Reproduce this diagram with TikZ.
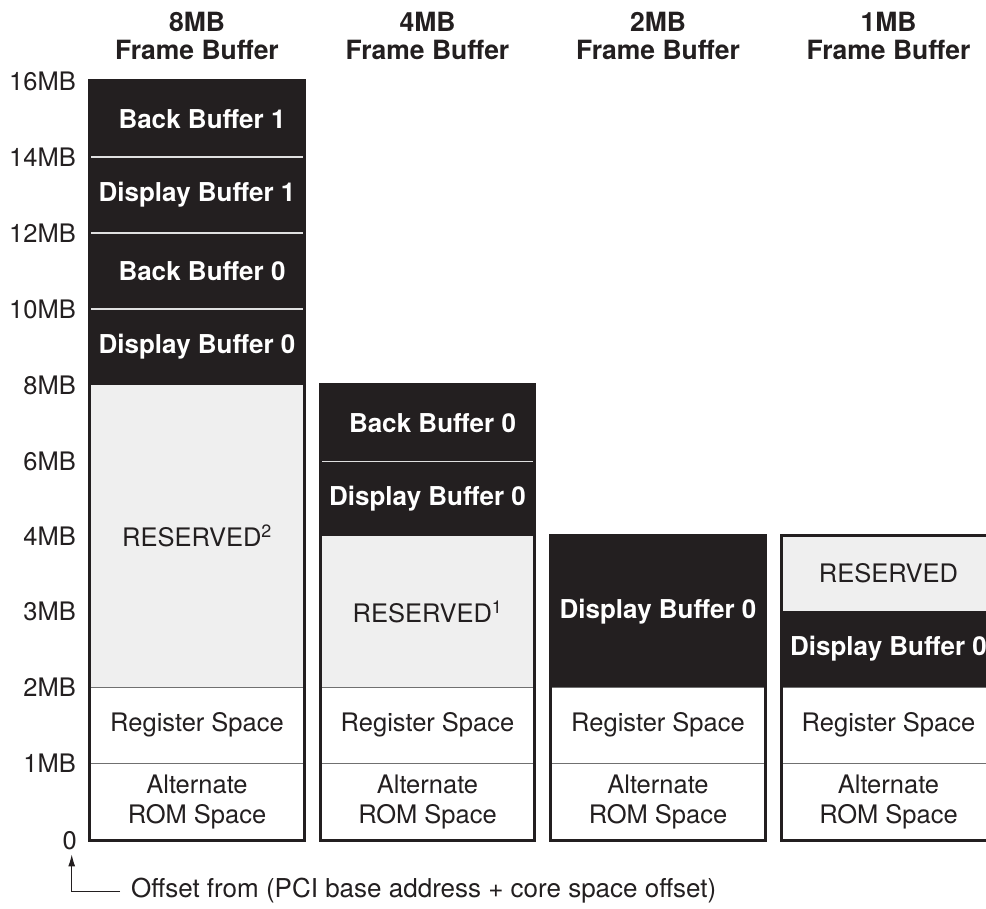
\documentclass[tikz,border=0pt]{standalone}
\usepackage{fontspec}
\setmainfont{TeX Gyre Heros}
\usetikzlibrary{arrows.meta,positioning}
\definecolor{mblack}{HTML}{231F20}
\definecolor{mgray}{HTML}{EFEFEF}
\definecolor{mline}{HTML}{707070}
\newcommand{\mfs}{\fontsize{25.5}{30}\selectfont}
\tikzset{
  >={Latex[length=12pt,width=7pt]},
  mblk/.style={fill=mblack, text=white, font=\fontsize{26}{30}\selectfont\bfseries, minimum width=214pt, inner sep=0pt},
  mres/.style={fill=mgray, text=mblack, font=\mfs, minimum width=214pt, inner sep=0pt},
  mwht/.style={fill=white, text=mblack, font=\mfs, minimum width=214pt, inner sep=0pt, align=center},
  mframe/.style={draw=mblack, line width=3pt},
  msepw/.style={draw=white!88!black, line width=1.4pt},
  msepg/.style={draw=mline, line width=1pt},
  mtick/.style={anchor=east, inner sep=0pt, text=mblack, font=\mfs},
  mhead/.style={font=\fontsize{26.5}{28}\selectfont\bfseries, text=mblack, align=center},
}

\begin{document}
\begin{tikzpicture}[x=1pt,y=-1pt]
  \clip (0,0) rectangle (986,909);

  % headers
  \node[mhead] (h8) at (197,36)   {8MB\\Frame Buffer};
  \node[mhead] (h4) at (427.5,36) {4MB\\Frame Buffer};
  \node[mhead] (h2) at (658,36)   {2MB\\Frame Buffer};
  \node[mhead] (h1) at (888.5,36) {1MB\\Frame Buffer};

  % 8MB column
  \node[mblk, minimum height=76pt]  (a-bb1) at (197,119)   {\hspace{10pt}Back Buffer 1};
  \node[mblk, minimum height=76pt]  (a-db1) at (197,195)   {Display Buffer 1};
  \node[mblk, minimum height=76pt]  (a-bb0) at (197,271)   {\hspace{10pt}Back Buffer 0};
  \node[mblk, minimum height=76pt]  (a-db0) at (197,347)   {Display Buffer 0};
  \node[mres, minimum height=302pt] (a-res) at (197,536)   {RESERVED\textsuperscript{2}};
  \node[mwht, minimum height=76pt]  (a-reg) at (197,725)   {Register Space};
  \node[mwht, minimum height=77pt]  (a-rom) at (197,801.5) {Alternate\\ROM Space};

  % 4MB column
  \node[mblk, minimum height=76pt]  (b-bb0) at (427.5,423)   {\hspace{10pt}Back Buffer 0};
  \node[mblk, minimum height=75pt]  (b-db0) at (427.5,498.5) {Display Buffer 0};
  \node[mres, minimum height=151pt] (b-res) at (427.5,611.5) {RESERVED\textsuperscript{1}};
  \node[mwht, minimum height=76pt]  (b-reg) at (427.5,725)   {Register Space};
  \node[mwht, minimum height=77pt]  (b-rom) at (427.5,801.5) {Alternate\\ROM Space};

  % 2MB column
  \node[mblk, minimum height=151pt] (c-db0) at (658,611.5) {Display Buffer 0};
  \node[mwht, minimum height=76pt]  (c-reg) at (658,725)   {Register Space};
  \node[mwht, minimum height=77pt]  (c-rom) at (658,801.5) {Alternate\\ROM Space};

  % 1MB column
  \node[mres, minimum height=75pt]  (d-res) at (888.5,573.5) {RESERVED};
  \node[mblk, minimum height=76pt]  (d-db0) at (888.5,649)   {Display Buffer 0};
  \node[mwht, minimum height=76pt]  (d-reg) at (888.5,725)   {Register Space};
  \node[mwht, minimum height=77pt]  (d-rom) at (888.5,801.5) {Alternate\\ROM Space};

  % dividers
  \draw[msepw] (a-bb1.south west) -- (a-bb1.south east);
  \draw[msepw] (a-db1.south west) -- (a-db1.south east);
  \draw[msepw] (a-bb0.south west) -- (a-bb0.south east);
  \draw[msepw] (b-bb0.south west) -- (b-bb0.south east);
  \draw[msepg] (a-res.south west) -- (a-res.south east);
  \draw[msepg] (b-res.south west) -- (b-res.south east);
  \draw[msepg] (c-db0.south west) -- (c-db0.south east);
  \draw[msepg] (d-db0.south west) -- (d-db0.south east);
  \foreach \c in {a,b,c,d}
    \draw[msepg] (\c-reg.south west) -- (\c-reg.south east);

  % outlines
  \draw[mframe] (a-bb1.north west) rectangle (a-rom.south east);
  \draw[mframe] (b-bb0.north west) rectangle (b-rom.south east);
  \draw[mframe] (c-db0.north west) rectangle (c-rom.south east);
  \draw[mframe] (d-res.north west) rectangle (d-rom.south east);

  % address scale
  \node[mtick] (t16) at (76,81)  {16MB};
  \node[mtick] (t14) at (76,157) {14MB};
  \node[mtick] (t12) at (76,233) {12MB};
  \node[mtick] (t10) at (76,309) {10MB};
  \node[mtick] (t8)  at (76,385) {8MB};
  \node[mtick] (t6)  at (76,461) {6MB};
  \node[mtick] (t4)  at (76,536) {4MB};
  \node[mtick] (t3)  at (76,611) {3MB};
  \node[mtick] (t2)  at (76,687) {2MB};
  \node[mtick] (t1)  at (76,763) {1MB};
  \node[mtick] (t0)  at (77,841) {0};

  \node[anchor=west, inner sep=0pt, text=mblack, font=\fontsize{26}{30}\selectfont] (off) at (131,891)
        {Offset from (PCI base address + core space offset)};
  \draw[->, mblack, line width=1pt] ([xshift=-11pt]off.west) -| ([xshift=2pt,yshift=-4pt]t0.south);

\end{tikzpicture}
\end{document}
